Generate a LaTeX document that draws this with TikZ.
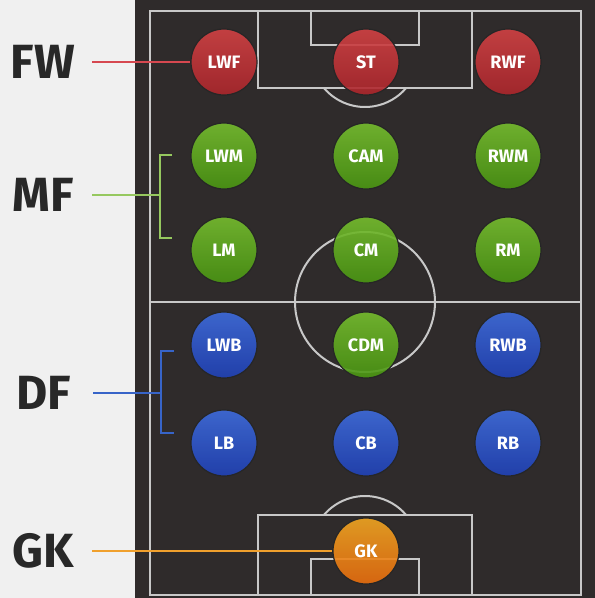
\documentclass[tikz,border=0pt]{standalone}
\usepackage{fontspec}
\setsansfont{Fira Sans}

\definecolor{sidebg}{RGB}{240,240,240}
\definecolor{pitchbg}{RGB}{47,43,43}
\definecolor{chalk}{RGB}{200,200,200}
\definecolor{labelink}{RGB}{40,40,40}
\definecolor{fwcol}{RGB}{214,72,80}
\definecolor{mfcol}{RGB}{150,200,95}
\definecolor{dfcol}{RGB}{55,100,200}
\definecolor{gkcol}{RGB}{240,160,45}
\definecolor{fwtop}{RGB}{210,66,68}
\definecolor{fwbot}{RGB}{172,38,44}
\definecolor{mftop}{RGB}{118,190,46}
\definecolor{mfbot}{RGB}{74,150,18}
\definecolor{dftop}{RGB}{62,108,222}
\definecolor{dfbot}{RGB}{32,66,184}
\definecolor{gktop}{RGB}{242,166,34}
\definecolor{gkbot}{RGB}{232,108,14}

\begin{document}
\begin{tikzpicture}[x=1pt,y=-1pt,
  pitchline/.style={draw=chalk,line width=2pt},
  grouplabel/.style={minimum width=98pt,inner sep=0pt,text=labelink,
    font=\sffamily\bfseries\fontsize{48}{48}\selectfont},
  ball/.style={circle,minimum size=66pt,inner sep=0pt,draw=black!85,line width=1.2pt,
    text=white,font=\sffamily\bfseries\fontsize{18}{18}\selectfont,
    fill opacity=0.9,text opacity=1},
  fwball/.style={ball,top color=fwtop,bottom color=fwbot},
  mfball/.style={ball,top color=mftop,bottom color=mfbot},
  dfball/.style={ball,top color=dftop,bottom color=dfbot},
  gkball/.style={ball,top color=gktop,bottom color=gkbot},
  fwline/.style={draw=fwcol,line width=1.6pt},
  mfline/.style={draw=mfcol,line width=1.6pt},
  dfline/.style={draw=dfcol,line width=1.6pt},
  gkline/.style={draw=gkcol,line width=1.6pt}]
  \useasboundingbox (0,0) rectangle (595,598);
  % ---- background ----
  \fill[sidebg] (0,0) rectangle (135,598);
  \fill[pitchbg] (135,0) rectangle (595,598);
  % ---- pitch markings ----
  \draw[pitchline] (150,11) rectangle (581,595);
  \draw[pitchline] (150,302) -- (581,302);
  \draw[pitchline] (365,302) circle[radius=70pt];
  \draw[pitchline] (258,11) rectangle (472,88);
  \draw[pitchline] (311,11) rectangle (419,45);
  \draw[pitchline] (323.9,88) arc[start angle=220.4,end angle=319.6,radius=54pt];
  \draw[pitchline] (258,515) rectangle (472,595);
  \draw[pitchline] (311,559) rectangle (419,595);
  \draw[pitchline] (323.9,515) arc[start angle=139.6,end angle=40.4,radius=54pt];
  % ---- players ----
  \foreach \n/\t/\x/\y/\s in {lwf/LWF/224/62/fwball, st/ST/366/62/fwball, rwf/RWF/508/62/fwball,
      lwm/LWM/224/156/mfball, cam/CAM/366/156/mfball, rwm/RWM/508/156/mfball,
      lm/LM/224/250/mfball, cm/CM/366/250/mfball, rm/RM/508/250/mfball,
      lwb/LWB/224/345/dfball, cdm/CDM/366/345/mfball, rwb/RWB/508/345/dfball,
      lb/LB/224/443/dfball, cb/CB/366/443/dfball, rb/RB/508/443/dfball,
      gk/GK/366/551/gkball}
    \node[\s] (\n) at (\x,\y) {\t};
  % ---- group labels ----
  \node[grouplabel] (fw) at (43,62) {FW};
  \node[grouplabel] (mf) at (43,195) {MF};
  \node[grouplabel] (df) at (44,393) {DF};
  \node[grouplabel] (gklab) at (43,551) {GK};
  % ---- connectors ----
  \draw[fwline] (fw.east) -- (lwf.west);
  \coordinate (mfbrace) at (160,195);
  \coordinate (mfupper) at (172,155);
  \coordinate (mflower) at (172,238);
  \draw[mfline] (mf.east) -- (mfbrace);
  \draw[mfline] (mfupper) -- ++(-12,0) |- (mflower);
  \coordinate (dfbrace) at (161,393);
  \coordinate (dfupper) at (174,351);
  \coordinate (dflower) at (174,433);
  \draw[dfline] (df.east) -- (dfbrace);
  \draw[dfline] (dfupper) -- ++(-13,0) |- (dflower);
  \draw[gkline] (gklab.east) -- (gk.west);
\end{tikzpicture}
\end{document}
